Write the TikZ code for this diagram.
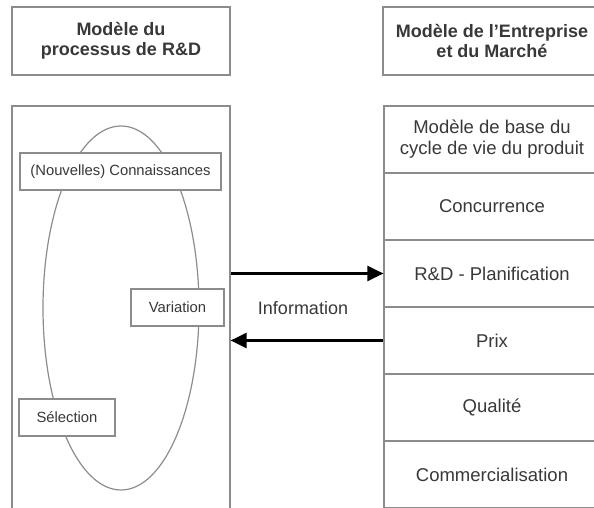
\documentclass[tikz,border=0pt]{standalone}
\usepackage{fontspec}
\setmainfont{Liberation Sans}
\usetikzlibrary{shapes.geometric,arrows.meta,positioning}
\definecolor{linegray}{gray}{0.55}
\definecolor{textgray}{gray}{0.22}
\tikzset{
  frame/.style={draw=linegray, line width=1.2pt, inner sep=0pt, align=center, text=textgray},
  header/.style={frame, minimum width=218pt, minimum height=68pt, font=\fontsize{18}{20.5}\selectfont\bfseries},
  cell/.style={frame, minimum width=216pt, minimum height=67pt, font=\fontsize{18.5}{21}\selectfont},
  phase/.style={frame, fill=white, minimum height=37pt, font=\fontsize{14.8}{17}\selectfont},
  infoarrow/.style={line width=2.5pt, -{Triangle[length=16pt,width=15pt]}}
}
\begin{document}
\begin{tikzpicture}[x=1pt,y=1pt]
\useasboundingbox (0,0) rectangle (594,508);
\clip (0,0.8) rectangle (594,508);
% headers
\node[header] (rdhead) at (121,467) {Modèle du\\processus de R\&D};
\node[header] (firmhead) at (492,467) {Modèle de l'Entreprise\\et du Marché};
% left model
\node[frame, minimum width=218pt, minimum height=422pt] (rdbox) at (121,191) {};
\node[frame, ellipse, minimum width=156pt, minimum height=364pt] (cycle) at (121,200) {};
\node[phase, minimum width=201pt] (connais) at (120.5,336.5) {(Nouvelles) Connaissances};
\node[phase, minimum width=93pt] (variation) at (177.5,200.5) {Variation};
\node[phase, minimum width=96pt] (selection) at (67,90.5) {Sélection};
% right model
\foreach \name/\txt [count=\i from 0] in {base/{Modèle de base du\\cycle de vie du produit},
    concur/Concurrence, planif/R\&D - Planification, prix/Prix, qualite/Qualité,
    commerc/Commercialisation}
  \node[cell] (\name) at (492,{368.5-67*\i}) {\txt};
% exchange
\draw[infoarrow] (rdbox.east |- planif.west) -- (planif.west);
\draw[infoarrow] (prix.west) -- (rdbox.east |- prix.west);
\node[text=textgray, font=\fontsize{18}{21}\selectfont] (info) at (303,200) {Information};
\end{tikzpicture}
\end{document}
